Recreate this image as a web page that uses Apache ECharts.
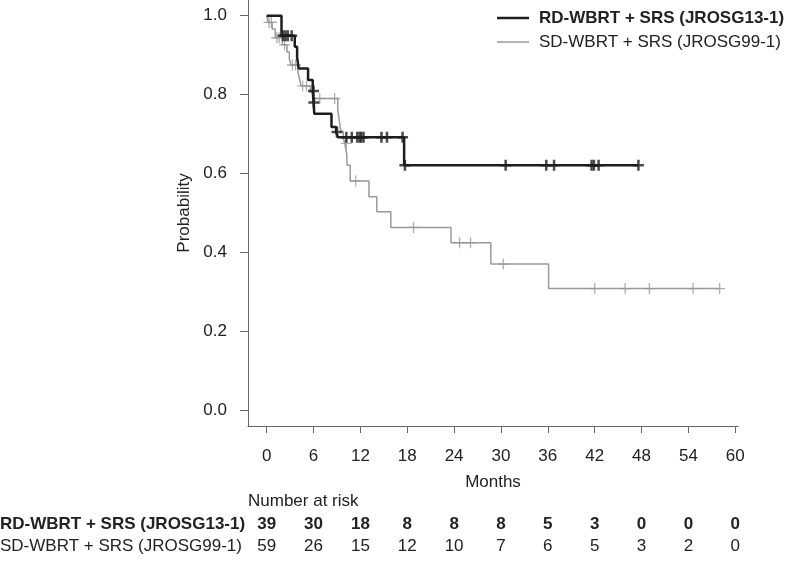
<!DOCTYPE html>
<html><head><meta charset="utf-8">
<script src="https://cdn.jsdelivr.net/npm/echarts@6/dist/echarts.min.js"></script>
<style>html,body{margin:0;padding:0;background:#fff}#c{width:787px;height:564px}</style>
</head><body><div id="c"></div>
<script>
// ---- data ----
const seriesNames = ['RD-WBRT + SRS (JROSG13-1)', 'SD-WBRT + SRS (JROSG99-1)'];
const xTicks = [0, 6, 12, 18, 24, 30, 36, 42, 48, 54, 60];
const yTicks = [0, 0.2, 0.4, 0.6, 0.8, 1.0];

// RD-WBRT + SRS: KM steps (time in months, survival after step)
const rdTimes = [0, 1.9, 3.6, 3.9, 4.1, 5.3, 5.9, 6.0, 6.1, 8.3, 8.9, 9.1, 17.6, 47.6];
const rdSurv  = [1.0, 0.949, 0.921, 0.894, 0.866, 0.837, 0.809, 0.780, 0.751, 0.718, 0.705, 0.692, 0.621, 0.621];
const rdCensorTimes = [2.1, 2.4, 2.7, 3.2, 6.0, 6.05, 9.0, 10.2, 10.9, 11.6, 11.9, 12.1, 12.4, 14.7, 15.4, 17.4, 17.7, 30.6, 35.8, 36.8, 41.6, 41.9, 42.5, 47.6];
const rdCensorSurv  = [0.949, 0.949, 0.949, 0.949, 0.809, 0.780, 0.705, 0.692, 0.692, 0.692, 0.692, 0.692, 0.692, 0.692, 0.692, 0.692, 0.621, 0.621, 0.621, 0.621, 0.621, 0.621, 0.621, 0.621];

// SD-WBRT + SRS
const sdTimes = [0, 0.2, 0.7, 1.1, 2.0, 2.6, 2.9, 3.1, 4.0, 4.2, 4.4, 5.6, 6.0, 9.1, 9.3, 9.5, 9.8, 10.0, 10.25, 10.3, 10.7, 13.1, 14.1, 15.9, 23.6, 28.7, 36.1, 58.0];
const sdSurv  = [1.0, 0.983, 0.966, 0.944, 0.926, 0.908, 0.891, 0.875, 0.857, 0.840, 0.822, 0.806, 0.790, 0.762, 0.734, 0.706, 0.692, 0.676, 0.649, 0.621, 0.581, 0.541, 0.503, 0.463, 0.424, 0.370, 0.308, 0.308];
const sdCensorTimes = [0.3, 0.6, 1.3, 1.6, 2.3, 3.3, 3.7, 4.6, 5.1, 6.8, 8.7, 10.2, 11.4, 18.8, 24.7, 26.1, 30.3, 42.0, 45.9, 49.0, 54.6, 58.0];
const sdCensorSurv  = [0.983, 0.983, 0.944, 0.944, 0.926, 0.875, 0.875, 0.822, 0.822, 0.790, 0.790, 0.676, 0.581, 0.463, 0.424, 0.424, 0.370, 0.308, 0.308, 0.308, 0.308, 0.308];

// number at risk
const riskTimes = [0, 6, 12, 18, 24, 30, 36, 42, 48, 54, 60];
const rdRisk = [39, 30, 18, 8, 8, 8, 5, 3, 0, 0, 0];
const sdRisk = [59, 26, 15, 12, 10, 7, 6, 5, 3, 2, 0];

// ---- chart ----
const FONT = '"Liberation Sans", Arial, Helvetica, sans-serif';
const TXT = '#222222';
const AX = '#666666';
const BLACK = '#1e1e1e';
const GRAY = '#9a9a9a';
const zip = (a, b) => a.map((v, i) => [v, b[i]]);
function plusPath(t) { // plus sign in a 11x11 box with arm half-thickness t
  const a = 5.5 - t, b = 5.5 + t;
  return 'path://M' + a + ',0 L' + b + ',0 L' + b + ',' + a + ' L11,' + a + ' L11,' + b + ' L' + b + ',' + b +
    ' L' + b + ',11 L' + a + ',11 L' + a + ',' + b + ' L0,' + b + ' L0,' + a + ' L' + a + ',' + a + ' Z';
}

const chart = echarts.init(document.getElementById('c'), null, {renderer: 'canvas'});
chart.setOption({
  animation: false,
  backgroundColor: '#ffffff',
  textStyle: {fontFamily: FONT},
  grid: {left: 248, right: 49, top: 0, bottom: 138},
  legend: {
    orient: 'vertical', left: 492, top: 3, itemWidth: 32, itemHeight: 14, itemGap: 4,
    symbolKeepAspect: true,
    textStyle: {fontFamily: FONT, fontSize: 17, color: TXT, lineHeight: 20, padding: [0, 0, 0, 5]},
    data: [
      {name: seriesNames[0], icon: 'path://M0,0 L32,0 L32,2.5 L0,2.5 Z', itemStyle: {color: BLACK}, textStyle: {fontWeight: 'bold'}},
      {name: seriesNames[1], icon: 'path://M0,0 L32,0 L32,1.5 L0,1.5 Z', itemStyle: {color: GRAY}}
    ]
  },
  xAxis: {
    type: 'value', min: -2.39, max: 60.35,
    name: 'Months', nameLocation: 'middle', nameGap: 48,
    nameTextStyle: {fontFamily: FONT, fontSize: 17, color: TXT},
    axisLine: {show: true, onZero: false, lineStyle: {color: AX, width: 1}},
    axisTick: {show: true, length: 7, customValues: xTicks, lineStyle: {color: AX}},
    axisLabel: {customValues: xTicks, margin: 22, fontFamily: FONT, fontSize: 17, color: TXT},
    splitLine: {show: false}
  },
  yAxis: {
    type: 'value', min: -0.0406, max: 1.0398,
    name: 'Probability', nameLocation: 'middle', nameGap: 48,
    nameTextStyle: {fontFamily: FONT, fontSize: 17, color: TXT},
    axisLine: {show: true, onZero: false, lineStyle: {color: AX, width: 1}},
    axisTick: {show: true, length: 8, customValues: yTicks, lineStyle: {color: AX}},
    axisLabel: {customValues: yTicks, margin: 21, fontFamily: FONT, fontSize: 17, color: TXT,
      formatter: v => v.toFixed(1)},
    splitLine: {show: false}
  },
  series: [
    {name: seriesNames[1], type: 'line', step: 'end', data: zip(sdTimes, sdSurv), symbol: 'none', showSymbol: false,
     lineStyle: {color: GRAY, width: 1.5}, itemStyle: {color: GRAY}, z: 2},
    {name: 'censor-sd', type: 'scatter', data: zip(sdCensorTimes, sdCensorSurv),
     symbol: plusPath(0.65), symbolSize: 11, itemStyle: {color: GRAY}, z: 3},
    {name: seriesNames[0], type: 'line', step: 'end', data: zip(rdTimes, rdSurv), symbol: 'none', showSymbol: false,
     lineStyle: {color: BLACK, width: 2.5}, itemStyle: {color: BLACK}, z: 4},
    {name: 'censor-rd', type: 'scatter', data: zip(rdCensorTimes, rdCensorSurv),
     symbol: plusPath(1.25), symbolSize: 11, itemStyle: {color: BLACK}, z: 5}
  ]
});

// number-at-risk table
const gx = t => chart.convertToPixel({xAxisIndex: 0}, t);
const elems = [];
elems.push({type: 'text', left: 248, top: 493, style: {text: 'Number at risk', font: '17px ' + FONT, fill: TXT}});
const rows = [
  {label: seriesNames[0], vals: rdRisk, bold: true, y: 524},
  {label: seriesNames[1], vals: sdRisk, bold: false, y: 546}
];
rows.forEach(r => {
  const f = (r.bold ? 'bold ' : '') + '17px ' + FONT;
  elems.push({type: 'text', x: 0, y: r.y, style: {text: r.label, font: f, fill: TXT, align: 'left', verticalAlign: 'middle'}});
  r.vals.forEach((v, i) => {
    elems.push({type: 'text', x: gx(riskTimes[i]), y: r.y,
      style: {text: String(v), font: f, fill: TXT, align: 'center', verticalAlign: 'middle'}});
  });
});
chart.setOption({graphic: {elements: elems}});
</script></body></html>
